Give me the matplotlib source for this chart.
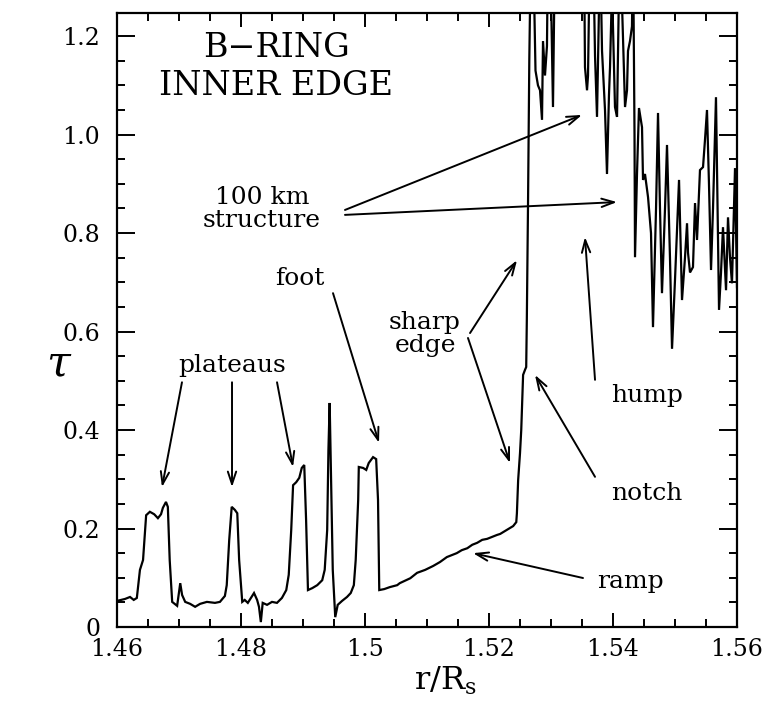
import matplotlib
matplotlib.use("Agg")
import matplotlib.pyplot as plt
from matplotlib.ticker import MultipleLocator, FixedLocator

plt.rcParams['font.family'] = ['DejaVu Serif']
plt.rcParams['mathtext.fontset'] = 'dejavuserif'

# ---- data ----
r_inner = [1.4600, 1.46065, 1.4613, 1.4621, 1.4627, 1.4632, 1.4637, 1.4642, 1.4647, 1.4653,
           1.4660, 1.4666, 1.4671, 1.4674, 1.4679, 1.4682, 1.4685, 1.4689, 1.4697, 1.4702,
           1.4705, 1.4710, 1.4718, 1.4726, 1.4734, 1.4745, 1.4758, 1.4766, 1.4774, 1.4777,
           1.4781, 1.4785, 1.4790, 1.4794, 1.4797, 1.4802, 1.4806, 1.4811, 1.4816, 1.4821,
           1.4826, 1.4829, 1.4832, 1.4835, 1.4842, 1.4850, 1.4858, 1.4866, 1.4873, 1.4877,
           1.4881, 1.4884, 1.4889, 1.4894, 1.4898, 1.4902, 1.4905, 1.4908, 1.4915, 1.4923,
           1.4931, 1.4935, 1.4939, 1.4941, 1.4943, 1.4945, 1.4948, 1.4952, 1.4956, 1.4963,
           1.4971, 1.4977, 1.4982, 1.4985, 1.4989, 1.4990, 1.4997, 1.5002, 1.5006, 1.5013,
           1.5018, 1.5021, 1.5023, 1.5031, 1.5040, 1.5052, 1.5056, 1.5073, 1.5084, 1.5097,
           1.5110, 1.5121, 1.5132, 1.5140, 1.5148, 1.5156, 1.5165, 1.5173, 1.5181, 1.5189,
           1.5197, 1.5205, 1.5213, 1.5218, 1.5226, 1.5234, 1.5239, 1.5244, 1.5245, 1.5247,
           1.5250, 1.5252, 1.5255, 1.5258, 1.5260, 1.5261, 1.5263, 1.5265]
tau_inner = [0.053, 0.055, 0.057, 0.061, 0.055, 0.059, 0.116, 0.136, 0.227, 0.234,
             0.229, 0.221, 0.229, 0.242, 0.254, 0.244, 0.136, 0.051, 0.043, 0.089,
             0.065, 0.051, 0.047, 0.041, 0.047, 0.051, 0.049, 0.051, 0.063, 0.085,
             0.177, 0.244, 0.238, 0.231, 0.136, 0.051, 0.055, 0.049, 0.059, 0.069,
             0.055, 0.041, 0.010, 0.049, 0.045, 0.051, 0.049, 0.059, 0.075, 0.106,
             0.197, 0.288, 0.294, 0.303, 0.323, 0.329, 0.217, 0.075, 0.079, 0.085,
             0.095, 0.116, 0.197, 0.359, 0.455, 0.319, 0.116, 0.020, 0.045, 0.053,
             0.061, 0.069, 0.085, 0.136, 0.258, 0.325, 0.323, 0.319, 0.333, 0.345,
             0.341, 0.258, 0.075, 0.077, 0.081, 0.085, 0.089, 0.099, 0.110, 0.116,
             0.124, 0.132, 0.142, 0.146, 0.150, 0.156, 0.160, 0.167, 0.171, 0.177,
             0.179, 0.183, 0.187, 0.189, 0.195, 0.201, 0.205, 0.213, 0.231, 0.298,
             0.353, 0.400, 0.512, 0.522, 0.528, 0.623, 0.867, 1.151]

r_outer = [1.52677, 1.52710, 1.52750, 1.52790, 1.52823, 1.52855, 1.52871, 1.52903, 1.52935, 1.52952,
           1.52984, 1.53032, 1.53065, 1.53516, 1.53532, 1.53548, 1.53581, 1.53597, 1.53629, 1.53677,
           1.53710, 1.53742, 1.53774, 1.53790, 1.53823, 1.53871, 1.53903, 1.53935, 1.53952, 1.53984,
           1.54032, 1.54065, 1.54097, 1.54113, 1.54161, 1.54194, 1.54226, 1.54242, 1.54274, 1.54306,
           1.54323, 1.54347, 1.54355, 1.54387, 1.54419, 1.54468, 1.54484, 1.54516, 1.54565, 1.54613,
           1.54645, 1.54694, 1.54726, 1.54758, 1.54790, 1.54839, 1.54871, 1.54919, 1.54952, 1.55000,
           1.55065, 1.55113, 1.55161, 1.55194, 1.55210, 1.55242, 1.55290, 1.55323, 1.55355, 1.55403,
           1.55452, 1.55484, 1.55516, 1.55548, 1.55581, 1.55613, 1.55661, 1.55710, 1.55742, 1.55774,
           1.55823, 1.55855, 1.55887, 1.55919, 1.55968, 1.56000]
tau_outer = [1.40, 1.40, 1.13, 1.10, 1.09, 1.03, 1.19, 1.12, 1.18, 1.40,
             1.40, 1.056, 1.40, 1.40, 1.40, 1.137, 1.09, 1.12, 1.40, 1.40,
             1.16, 1.036, 1.25, 1.40, 1.17, 1.05, 0.92, 1.08, 1.137, 1.30,
             1.056, 1.036, 1.30, 1.40, 1.20, 1.056, 1.09, 1.17, 1.19, 1.22,
             1.40, 1.00, 0.751, 0.92, 1.054, 1.015, 0.908, 0.92, 0.873, 0.80,
             0.609, 0.85, 1.044, 0.85, 0.678, 0.85, 0.979, 0.75, 0.565, 0.705,
             0.908, 0.664, 0.75, 0.82, 0.76, 0.72, 0.731, 0.861, 0.786, 0.928,
             0.934, 0.99, 1.05, 0.90, 0.725, 0.85, 1.076, 0.644, 0.72, 0.812,
             0.684, 0.832, 0.75, 0.698, 0.932, 0.69]

r = r_inner + r_outer
tau = tau_inner + tau_outer

x_ticks = [1.46, 1.48, 1.50, 1.52, 1.54, 1.56]
x_tick_labels = ["1.46", "1.48", "1.5", "1.52", "1.54", "1.56"]
y_ticks = [0.0, 0.2, 0.4, 0.6, 0.8, 1.0, 1.2]
y_tick_labels = ["0", "0.2", "0.4", "0.6", "0.8", "1.0", "1.2"]

# ---- figure ----
fig = plt.figure(figsize=(7.70, 7.01), dpi=100)
ax = fig.add_axes([117/770, 1-627/701, 620/770, 614/701])

ax.plot(r, tau, color='black', lw=1.6, solid_joinstyle='miter')
ax.set_xlim(1.46, 1.56)
ax.set_ylim(0, 1.247)

ax.xaxis.set_major_locator(FixedLocator(x_ticks))
ax.set_xticklabels(x_tick_labels)
ax.yaxis.set_major_locator(FixedLocator(y_ticks))
ax.set_yticklabels(y_tick_labels)
ax.xaxis.set_minor_locator(MultipleLocator(0.005))
ax.yaxis.set_minor_locator(MultipleLocator(0.05))
ax.tick_params(which='both', direction='in', top=True, right=True, width=1.4,
               labelsize=17, colors='black')
ax.tick_params(axis='x', which='major', length=10, pad=8)
ax.tick_params(axis='y', which='major', length=13, pad=12)
ax.tick_params(which='minor', length=5.5)
for s in ax.spines.values():
    s.set_linewidth(1.6)

ax.set_xlabel(r'r/R$_\mathrm{s}$', fontsize=23, va='center', ha='center')
ax.xaxis.set_label_coords(0.529, -0.088)
ax.set_ylabel(r'$\tau$', fontsize=31, rotation=0, va='center', ha='center')
ax.yaxis.set_label_coords(-0.094, 0.428)

fs = 18
akw = dict(arrowstyle='->,head_length=0.9,head_width=0.3', lw=1.4, color='black',
           shrinkA=0, shrinkB=0)

ax.text(1.48565, 1.137, "B\u2212RING\nINNER EDGE", fontsize=24, ha='center', va='center',
        linespacing=1.25)

ax.text(1.48339, 0.849, "100 km\nstructure", fontsize=fs, ha='center', va='center',
        linespacing=0.95)
ax.annotate("", xy=(1.5350, 1.040), xytext=(1.49677, 0.847), arrowprops=akw)
ax.annotate("", xy=(1.54065, 0.863), xytext=(1.49677, 0.837), arrowprops=akw)

ax.text(1.48952, 0.707, "foot", fontsize=fs, ha='center', va='center')
ax.annotate("", xy=(1.50226, 0.374), xytext=(1.49484, 0.678), arrowprops=akw)

ax.text(1.50968, 0.595, "sharp\nedge", fontsize=fs, ha='center', va='center',
        linespacing=0.95)
ax.annotate("", xy=(1.52452, 0.745), xytext=(1.51694, 0.597), arrowprops=akw)
ax.annotate("", xy=(1.52339, 0.333), xytext=(1.51661, 0.587), arrowprops=akw)

ax.text(1.47855, 0.532, "plateaus", fontsize=fs, ha='center', va='center')
ax.annotate("", xy=(1.46726, 0.284), xytext=(1.47048, 0.497), arrowprops=akw)
ax.annotate("", xy=(1.47855, 0.284), xytext=(1.47855, 0.497), arrowprops=akw)
ax.annotate("", xy=(1.48839, 0.325), xytext=(1.48581, 0.497), arrowprops=akw)

ax.text(1.54548, 0.457, "hump", fontsize=fs, ha='center', va='baseline')
ax.annotate("", xy=(1.53548, 0.792), xytext=(1.53710, 0.502), arrowprops=akw)

ax.text(1.54548, 0.258, "notch", fontsize=fs, ha='center', va='baseline')
ax.annotate("", xy=(1.52742, 0.512), xytext=(1.53710, 0.305), arrowprops=akw)

ax.text(1.54274, 0.079, "ramp", fontsize=fs, ha='center', va='baseline')
ax.annotate("", xy=(1.51742, 0.150), xytext=(1.53516, 0.0995), arrowprops=akw)

fig.savefig("out.png", dpi=100)
